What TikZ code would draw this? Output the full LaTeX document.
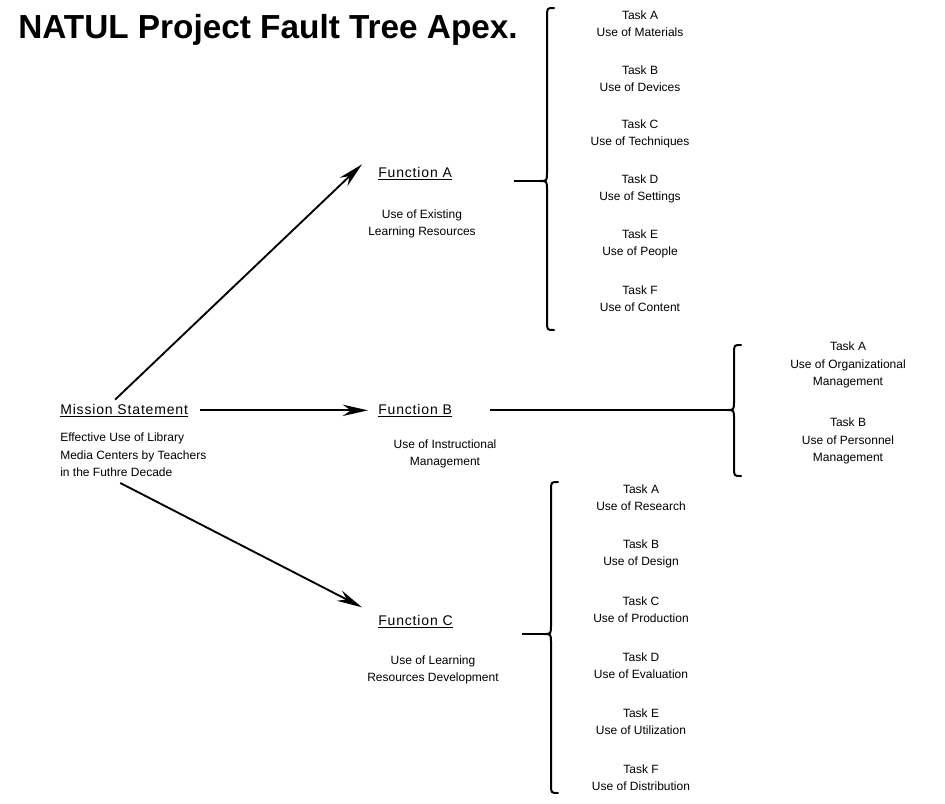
\documentclass[tikz,border=0pt]{standalone}
\usepackage{fontspec}
\setmainfont{Liberation Sans}
\newfontfamily\headfont[LetterSpace=6]{Liberation Sans}
\usetikzlibrary{arrows.meta,calc}
\begin{document}
\begin{tikzpicture}[
        x=0.75pt, y=-0.75pt,
        txt/.style={font=\fontsize{9}{13}\selectfont, inner sep=0pt},
        head/.style={font=\headfont\fontsize{10.5}{13}\selectfont, inner sep=0pt, anchor=base west},
        task/.style={txt, align=center},
        arr/.style={line width=1.4pt, -{Stealth[length=19pt,width=8.5pt]}},
        tie/.style={line width=1.4pt},
        brace/.style={line width=1.5pt, line cap=round}
    ]
    \useasboundingbox (0,0) rectangle (945,803);

    \node[anchor=base west, inner sep=0pt, font=\bfseries\fontsize{25}{28}\selectfont] (title) at (18,38) {NATUL Project Fault Tree Apex.};

    % mission
    \node[head] (mission) at (60,414) {\underline{Mission Statement}};
    \node[txt, anchor=north west, align=left] (missiontxt) at (60,433) {Effective Use of Library\\Media Centers by Teachers\\in the Futhre Decade};

    % functions
    \node[head] (funA) at (378,177) {\underline{Function A}};
    \node[task] (funAtxt) at (422,224) {Use of Existing\\Learning Resources};
    \node[head] (funB) at (378,414) {\underline{Function B}};
    \node[task] (funBtxt) at (445,454) {Use of Instructional\\Management};
    \node[head] (funC) at (378,625) {\underline{Function C}};
    \node[task] (funCtxt) at (433,670) {Use of Learning\\Resources Development};

    \draw[arr] ($(mission.north)+(-9,-4)$) -- ($(funA.west)+(-16,-9)$);
    \draw[arr] ($(mission.east)+(12,0)$) -- ($(funB.west)+(-10,0)$);
    \draw[arr] ($(missiontxt.south)+(-13,6)$) -- ($(funC.west)+(-16,-14)$);

    % braces
    \foreach \x/\t/\m/\b/\n in {540/8/181/330/A, 727/345/410/476/B, 544/482/634/793/C} {
        \coordinate (br\n) at (\x,\m);
        \draw[brace] ({\x+14},\t) .. controls ({\x+7},\t) .. ({\x+7},{\t+9})
            -- ({\x+7},{\m-9}) .. controls ({\x+7},\m) .. (\x,\m)
            .. controls ({\x+7},\m) .. ({\x+7},{\m+9})
            -- ({\x+7},{\b-9}) .. controls ({\x+7},\b) .. ({\x+14},\b);
    }
    \coordinate (dA) at (514,181);
    \coordinate (dB) at (490,410);
    \coordinate (dC) at (522,634);
    \draw[tie] (dA) -- (brA);
    \draw[tie] (dB) -- (brB);
    \draw[tie] (dC) -- (brC);

    % tasks
    \foreach \l/\t [count=\i] in {A/Materials, B/Devices, C/Techniques, D/Settings, E/People, F/Content} {
        \node[task] (a\l) at (640,{24+55*(\i-1)}) {Task \l\\Use of \t};
    }
    \node[task] (bA) at (848,365) {Task A\\Use of Organizational\\Management};
    \node[task] (bB) at (848,441) {Task B\\Use of Personnel\\Management};
    \foreach \l/\t [count=\i] in {A/Research, B/Design, C/Production, D/Evaluation, E/Utilization, F/Distribution} {
        \node[task] (c\l) at (641,{498+56*(\i-1)}) {Task \l\\Use of \t};
    }
\end{tikzpicture}
\end{document}
